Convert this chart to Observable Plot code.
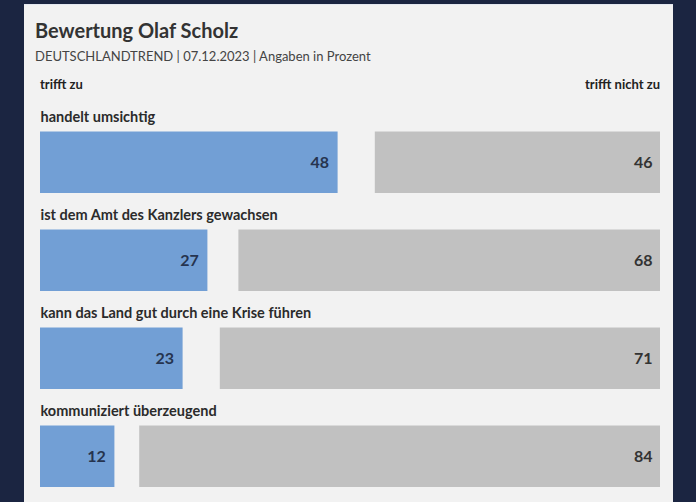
<!DOCTYPE html>
<html>
<head>
<meta charset="utf-8">
<script src="https://cdn.jsdelivr.net/npm/d3@7"></script>
<script src="https://cdn.jsdelivr.net/npm/@observablehq/plot@0.6"></script>
<style>
  html, body { margin: 0; padding: 0; }
  body { width: 696px; height: 502px; background: #1b2541; position: relative; overflow: hidden; font-family: Lato, "Open Sans", sans-serif; }
  #panel { position: absolute; left: 24px; top: 4px; width: 649px; height: 498px; background: #f2f2f2; border-top: 1px solid #e4e8f0; box-sizing: border-box; }
  #title { position: absolute; left: 11px; top: 12px; font-size: 20px; font-weight: 700; color: #333; line-height: 26px; white-space: nowrap; }
  #subtitle { position: absolute; left: 11px; top: 42px; font-size: 13px; color: #444; line-height: 18px; white-space: nowrap; }
  #legL { position: absolute; left: 16px; top: 71px; font-size: 13px; font-weight: 700; color: #222; line-height: 16px; }
  #legR { position: absolute; right: 13px; top: 71px; font-size: 13px; font-weight: 700; color: #222; line-height: 16px; }
  #chart { position: absolute; left: 0; top: 89px; }
</style>
</head>
<body>
<div id="panel">
  <div id="title"></div>
  <div id="subtitle"></div>
  <div id="legL"></div>
  <div id="legR"></div>
  <div id="chart"></div>
</div>
<script>
const titleText = "Bewertung Olaf Scholz";
const subtitleText = "DEUTSCHLANDTREND | 07.12.2023 | Angaben in Prozent";
const legendLabels = ["trifft zu", "trifft nicht zu"];
const statements = [
  "handelt umsichtig",
  "ist dem Amt des Kanzlers gewachsen",
  "kann das Land gut durch eine Krise führen",
  "kommuniziert überzeugend"
];
const triffZu = [48, 27, 23, 12];
const triffNichtZu = [46, 68, 71, 84];

document.getElementById("title").textContent = titleText;
document.getElementById("subtitle").textContent = subtitleText;
document.getElementById("legL").textContent = legendLabels[0];
document.getElementById("legR").textContent = legendLabels[1];

const data = statements.map((s, i) => ({label: s, zu: triffZu[i], nicht: triffNichtZu[i]}));

const chart = Plot.plot({
  width: 649,
  height: 408,
  marginLeft: 16,
  marginRight: 13,
  marginTop: 0,
  marginBottom: 14,
  style: {background: "transparent", fontFamily: "Lato, 'Open Sans', sans-serif", overflow: "visible"},
  x: {domain: [0, 100], axis: null},
  y: {domain: statements, axis: null, padding: 0},
  marks: [
    Plot.barX(data, {x1: 0, x2: "zu", y: "label", fill: "#729fd5", insetTop: 36.5}),
    Plot.barX(data, {x1: d => 100 - d.nicht, x2: 100, y: "label", fill: "#c1c1c1", insetTop: 36.5}),
    Plot.text(data, {x: 0, y: "label", text: "label", textAnchor: "start", dy: -27.5, fontSize: 14.5, fontWeight: 700, fill: "#2b2b2b", lineAnchor: "middle"}),
    Plot.text(data, {x: "zu", y: "label", text: d => String(d.zu), textAnchor: "end", dx: -9, dy: 18, fontSize: 16, fontWeight: 700, fill: "#26344f", lineAnchor: "middle"}),
    Plot.text(data, {x: 100, y: "label", text: d => String(d.nicht), textAnchor: "end", dx: -8, dy: 18, fontSize: 16, fontWeight: 700, fill: "#333333", lineAnchor: "middle"})
  ]
});
document.getElementById("chart").appendChild(chart);
</script>
</body>
</html>
